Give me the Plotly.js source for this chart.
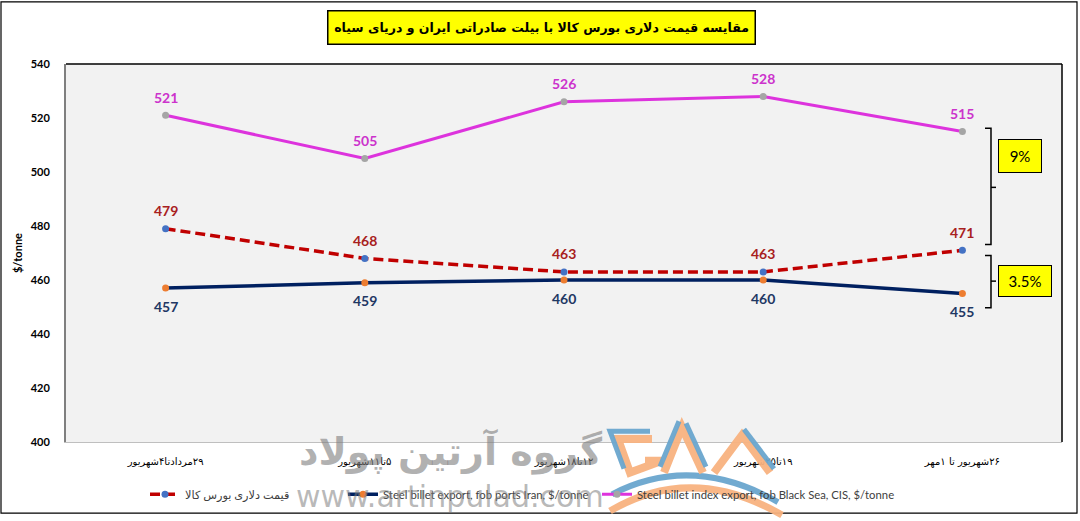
<!DOCTYPE html>
<html>
<head>
<meta charset="utf-8">
<script src="https://cdn.plot.ly/plotly-3.0.1.min.js"></script>
<style>html,body{margin:0;padding:0;background:#fff;}#chart{width:1080px;height:521px;}</style>
</head>
<body>
<div id="chart"></div>
<script>
// ---- data ----
var categories = ["۲۹مردادتا۴شهریور", "۵تا۱۱شهریور", "۱۲تا۱۸شهریور", "۱۹تا۲۵شهریور", "۲۶شهریور تا ۱مهر"];
var bourseValues = [479, 468, 463, 463, 471];
var iranExportValues = [457, 459, 460, 460, 455];
var blackSeaValues = [521, 505, 526, 528, 515];
var seriesNames = ["قیمت دلاری بورس کالا", "Steel billet export, fob ports Iran, $/tonne", "Steel billet index export, fob Black Sea, CIS, $/tonne"];
var yTicks = [400, 420, 440, 460, 480, 500, 520, 540];

// ---- geometry helpers (paper coords from pixels) ----
var L = 66, R = 1062, T = 64, B = 447;
function px(x) { return (x - L) / (R - L); }
function py(y) { return (B - y) / (B - T); }
function rtl(s) { return '\u202B' + s + '\u202C'; }

var traces = [
  { x: categories, y: bourseValues, name: rtl(seriesNames[0]), type: 'scatter', mode: 'lines+markers', legend: 'legend',
    line: { color: '#c00000', width: 3.5, dash: '10px,5px' }, marker: { color: '#4472c4', size: 7 } },
  { x: categories, y: iranExportValues, name: seriesNames[1], type: 'scatter', mode: 'lines+markers', legend: 'legend2',
    line: { color: '#002060', width: 3.5 }, marker: { color: '#ed7d31', size: 7 } },
  { x: categories, y: blackSeaValues, name: seriesNames[2], type: 'scatter', mode: 'lines+markers', legend: 'legend3',
    line: { color: '#dd33dd', width: 3 }, marker: { color: '#a5a5a5', size: 7 } }
];

var annotations = [];
function addLabels(vals, color, shift) {
  for (var i = 0; i < vals.length; i++) {
    annotations.push({ x: categories[i], y: vals[i], xref: 'x', yref: 'y', text: String(vals[i]),
      showarrow: false, yshift: shift, xanchor: 'center', yanchor: 'middle',
      font: { family: 'Lato, Open Sans, sans-serif', size: 14, color: color, weight: 'bold' } });
  }
}
addLabels(bourseValues, '#a82020', 18);
addLabels(iranExportValues, '#1f3864', -18);
addLabels(blackSeaValues, '#cc33cc', 18);

function paperNote(x, y, text, extra) {
  var a = { xref: 'paper', yref: 'paper', x: px(x), y: py(y), text: text, showarrow: false, xanchor: 'center', yanchor: 'middle' };
  for (var k in extra) a[k] = extra[k];
  annotations.push(a);
}
// watermark texts
paperNote(451, 457, '<b>گروه آرتین پولاد</b>', { font: { family: 'DejaVu Sans, sans-serif', size: 38, color: 'rgba(125,125,125,0.6)' } });
paperNote(450, 502, 'www.artinpulad.com', { font: { family: 'DejaVu Sans, sans-serif', size: 30, color: 'rgba(125,125,125,0.55)' } });
// title box
paperNote(541, 27, rtl('<b>مقایسه قیمت دلاری بورس کالا با بیلت صادراتی ایران و دریای سیاه</b>'),
  { bgcolor: '#ffff00', bordercolor: '#000', borderwidth: 1.5, width: 424, height: 30,
    font: { family: 'DejaVu Sans, sans-serif', size: 12.5, color: '#000' } });
// percent boxes
paperNote(1020, 157.5, '9%', { bgcolor: '#ffff00', bordercolor: '#000', borderwidth: 1, width: 40, height: 30,
  font: { family: 'Lato, sans-serif', size: 15, color: '#000' } });
paperNote(1025, 283.5, '3.5%', { bgcolor: '#ffff00', bordercolor: '#000', borderwidth: 1, width: 50, height: 28,
  font: { family: 'Lato, sans-serif', size: 15, color: '#000' } });

function pathFrom(pts) {
  var s = '';
  for (var i = 0; i < pts.length; i++) s += (i ? ' L' : 'M') + px(pts[i][0]).toFixed(5) + ',' + py(pts[i][1]).toFixed(5);
  return s;
}
function curve(p0, c, p1) {
  return 'M' + px(p0[0]).toFixed(5) + ',' + py(p0[1]).toFixed(5) + ' Q' + px(c[0]).toFixed(5) + ',' + py(c[1]).toFixed(5) + ' ' + px(p1[0]).toFixed(5) + ',' + py(p1[1]).toFixed(5);
}
function seg(pts, color, w) { return { type: 'path', xref: 'paper', yref: 'paper', path: pathFrom(pts), line: { color: color, width: w } }; }
var blue = 'rgba(105,165,205,0.95)', orange = 'rgba(248,178,128,0.95)';
var shapes = [
  // outer border
  { type: 'rect', xref: 'paper', yref: 'paper', x0: px(1), x1: px(1077), y0: py(1), y1: py(519), line: { color: '#000', width: 1.2 }, layer: 'below' },
  // plot top & right border
  { type: 'line', xref: 'paper', yref: 'paper', x0: 0, x1: 1, y0: 1, y1: 1, line: { color: '#000', width: 1.5 } },
  { type: 'line', xref: 'paper', yref: 'paper', x0: 1, x1: 1, y0: 0, y1: 1, line: { color: '#000', width: 1.5 } },
  // brackets
  seg([[985, 129], [991, 129], [991, 247], [985, 247]], '#000', 1.5),
  seg([[991, 189], [996, 189]], '#000', 1.5),
  seg([[985, 258], [991, 258], [991, 311], [985, 311]], '#000', 1.5),
  seg([[991, 284], [996, 284]], '#000', 1.5),
  // logo (watermark)
  { type: 'path', xref: 'paper', yref: 'paper', path: curve([610, 517], [692, 468], [782, 521]), line: { color: orange, width: 7 } },
  { type: 'path', xref: 'paper', yref: 'paper', path: curve([612, 500], [692, 458], [778, 508]), line: { color: blue, width: 6 } },
  seg([[652, 444], [618, 444], [630, 478], [662, 466], [645, 466]], orange, 8),
  seg([[650, 436], [610, 436], [624, 474]], blue, 5),
  seg([[664, 478], [682, 432], [703, 478]], orange, 8),
  seg([[660, 472], [679, 426]], blue, 5),
  seg([[714, 478], [742, 440], [770, 478]], orange, 8),
  seg([[686, 428], [706, 472]], blue, 5),
  seg([[744, 434], [774, 474]], blue, 5)
];

var legFont = { family: 'Lato, DejaVu Sans, sans-serif', size: 11.3, color: '#404040' };
function leg(x) { return { orientation: 'h', x: px(x), xanchor: 'left', y: py(500), yanchor: 'middle', font: legFont, bgcolor: 'rgba(0,0,0,0)', itemwidth: 30 }; }

var layout = {
  width: 1080, height: 521,
  margin: { l: L, r: 1080 - R, t: T, b: 521 - B, pad: 0 },
  paper_bgcolor: '#ffffff', plot_bgcolor: '#f2f2f2',
  showlegend: true,
  legend: leg(145), legend2: leg(343), legend3: leg(597),
  xaxis: { type: 'category', range: [-0.5, 4.5], showgrid: false, zeroline: false, showline: true, linecolor: '#bfbfbf', linewidth: 1,
    tickvals: categories, ticktext: categories.map(rtl),
    ticks: '', ticklabelstandoff: 10, tickfont: { family: 'DejaVu Sans, sans-serif', size: 10, color: '#000' }, fixedrange: true },
  yaxis: { range: [400, 540], tickvals: yTicks, ticktext: yTicks.map(String), showgrid: false, zeroline: false,
    showline: true, linecolor: '#7f7f7f', linewidth: 2, ticks: '', ticklabelstandoff: 12,
    tickfont: { family: 'Lato, sans-serif', size: 11, color: '#000', weight: 'bold' },
    title: { text: '<b>$/tonne</b>', standoff: 6, font: { family: 'Lato, sans-serif', size: 11, color: '#000' } } },
  annotations: annotations,
  shapes: shapes
};

Plotly.newPlot('chart', traces, layout, { displayModeBar: false, staticPlot: true });
</script>
</body>
</html>
